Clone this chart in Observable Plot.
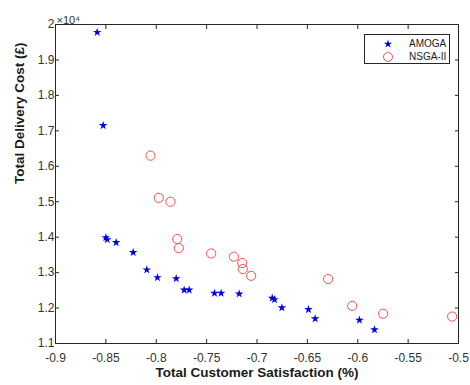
<!DOCTYPE html>
<html>
<head>
<meta charset="utf-8">
<script src="https://cdn.jsdelivr.net/npm/d3@7"></script>
<script src="https://cdn.jsdelivr.net/npm/@observablehq/plot@0.6"></script>
<style>
  html, body { margin: 0; padding: 0; background: #fff; }
  #wrap { position: relative; width: 470px; height: 385px; font-family: "Liberation Sans", Arial, Helvetica, sans-serif; }
  #wrap svg g[aria-label$="tick label"], #wrap svg g[aria-label$="tick label"] text { font-size: 12px; }
  #legend { position: absolute; left: 364px; top: 34px; width: 84px; height: 28px; border: 1px solid #262626; background: #fff; font-size: 10px; color: #1a1a1a; }
  #legend .row { position: absolute; left: 0; height: 14px; line-height: 14px; }
  #legend svg { position: absolute; left: 16px; top: 1px; }
  #legend span { position: absolute; left: 44px; white-space: nowrap; }
</style>
</head>
<body>
<div id="wrap"></div>
<script>
// AMOGA solutions
const amogaSat  = [-0.8586, -0.8527, -0.8500, -0.8487, -0.8398, -0.8229, -0.8094, -0.7988, -0.7802, -0.7723, -0.7673, -0.7422, -0.7356, -0.7177, -0.6849, -0.6826, -0.6753, -0.6489, -0.6423, -0.5983, -0.5834];
const amogaCost = [19780, 17150, 13990, 13930, 13850, 13570, 13080, 12860, 12830, 12510, 12510, 12420, 12420, 12400, 12280, 12240, 12010, 11960, 11700, 11660, 11390];
// NSGA-II solutions
const nsgaSat  = [-0.8057, -0.7975, -0.7859, -0.7792, -0.7776, -0.7455, -0.7230, -0.7147, -0.7141, -0.7058, -0.6294, -0.6055, -0.5748, -0.5063];
const nsgaCost = [16300, 15110, 15000, 13950, 13690, 13540, 13450, 13270, 13100, 12910, 12820, 12060, 11840, 11760];
// ticks
const xTicks = [-0.9, -0.85, -0.8, -0.75, -0.7, -0.65, -0.6, -0.55, -0.5];
const yTicks = [11000, 12000, 13000, 14000, 15000, 16000, 17000, 18000, 19000, 20000];

const amoga = amogaSat.map((s, i) => ({sat: s, cost: amogaCost[i]}));
const nsga = nsgaSat.map((s, i) => ({sat: s, cost: nsgaCost[i]}));

const axisColor = "#262626";
const chart = Plot.plot({
  width: 470,
  height: 385,
  marginLeft: 55,
  marginRight: 12,
  marginTop: 24,
  marginBottom: 42,
  style: {fontFamily: "'Liberation Sans', Arial, Helvetica, sans-serif", fontSize: "12px", color: axisColor, background: "#fff"},
  x: {domain: [-0.9, -0.5]},
  y: {domain: [11000, 20000]},
  marks: [
    Plot.frame({stroke: axisColor, strokeWidth: 1}),
    Plot.axisX({anchor: "bottom", ticks: xTicks, tickSize: -4, tickPadding: 14, fontSize: 12, tickFormat: d => String(d), label: null, stroke: axisColor, fill: "#333"}),
    Plot.axisX({anchor: "top", ticks: xTicks, tickSize: -4, tickFormat: () => "", label: null, stroke: axisColor}),
    Plot.axisY({anchor: "left", ticks: yTicks, tickSize: -4, tickPadding: 5, fontSize: 12, tickFormat: d => String(+(d / 1e4).toFixed(1)), label: null, stroke: axisColor, fill: "#333"}),
    Plot.axisY({anchor: "right", ticks: yTicks, tickSize: -4, tickFormat: () => "", label: null, stroke: axisColor}),
    Plot.text(["×10⁴"], {frameAnchor: "top-left", dy: -8, dx: 1, textAnchor: "start", fill: "#333", fontSize: 11}),
    Plot.text(["Total Delivery Cost (£)"], {frameAnchor: "left", rotate: -90, dx: -36, fontWeight: "bold", fontSize: 13.5, fill: "#1a1a1a"}),
    Plot.text(["Total Customer Satisfaction (%)"], {frameAnchor: "bottom", dy: 33, fontWeight: "bold", fontSize: 13.5, fill: "#1a1a1a"}),
    Plot.dot(nsga, {x: "sat", y: "cost", r: 4.6, stroke: "#ff4d4d", strokeWidth: 1, fill: "none"}),
    Plot.dot(amoga, {x: "sat", y: "cost", symbol: "star", r: 2.7, fill: "#0000e6", stroke: "none"})
  ]
});
const wrap = document.getElementById("wrap");
wrap.appendChild(chart);

const legend = document.createElement("div");
legend.id = "legend";
legend.innerHTML = `
  <div class="row" style="top:2px;width:84px"><svg width="14" height="12" viewBox="-7 -6 14 12"><path d="${d3.symbol(d3.symbolStar, 22)()}" fill="#0000e6"/></svg><span>AMOGA</span></div>
  <div class="row" style="top:15px;width:84px"><svg width="14" height="12" viewBox="-7 -6 14 12"><circle r="4.5" fill="none" stroke="#ff4d4d"/></svg><span>NSGA-II</span></div>`;
wrap.appendChild(legend);
</script>
</body>
</html>
